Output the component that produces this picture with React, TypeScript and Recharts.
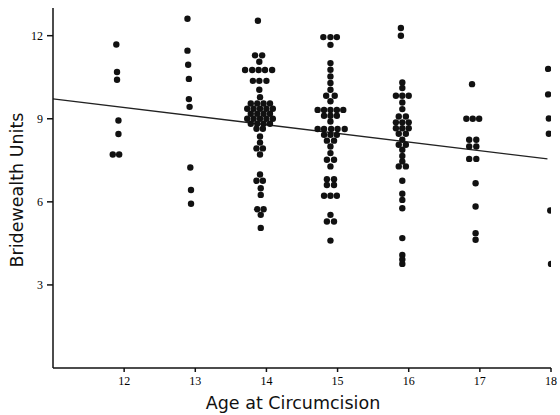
import { ScatterChart, Scatter, XAxis, YAxis, ReferenceLine } from "recharts";

// each dot as [age, bridewealth units]
const age12: [number, number][] = [
  [11.89, 11.68], [11.9, 10.69], [11.9, 10.41], [11.92, 8.94], [11.92, 8.45], [11.84, 7.71], [11.93, 7.71],
];

const age13: [number, number][] = [
  [12.89, 12.61], [12.89, 11.46], [12.9, 10.95], [12.91, 10.44], [12.91, 9.71], [12.92, 9.43],
  [12.93, 7.24], [12.94, 6.43], [12.94, 5.93],
];

const age14: [number, number][] = [
  [13.88, 12.54], [13.84, 11.29], [13.94, 11.29], [13.9, 11.06],
  [13.7, 10.76], [13.8, 10.76], [13.89, 10.76], [13.98, 10.76], [14.08, 10.76],
  [13.81, 10.37], [13.9, 10.37], [14.0, 10.37], [13.9, 10.05], [13.91, 9.78],
  [13.78, 9.55], [13.87, 9.55], [13.96, 9.55], [14.05, 9.55],
  [13.73, 9.36], [13.82, 9.36], [13.91, 9.36], [14.0, 9.36], [14.09, 9.36],
  [13.78, 9.18], [13.87, 9.18], [13.96, 9.18], [14.05, 9.18],
  [13.73, 9.0], [13.82, 9.0], [13.91, 9.0], [14.0, 9.0], [14.09, 9.0],
  [13.78, 8.82], [13.87, 8.82], [13.96, 8.82], [14.05, 8.82],
  [13.86, 8.64], [13.95, 8.64], [13.91, 8.36], [13.91, 8.14], [13.86, 7.93], [13.95, 7.93], [13.91, 7.71],
  [13.91, 6.99], [13.86, 6.76], [13.95, 6.76], [13.92, 6.49], [13.92, 6.25],
  [13.87, 5.73], [13.96, 5.73], [13.92, 5.53], [13.92, 5.06],
];

const age15: [number, number][] = [
  [14.8, 11.95], [14.9, 11.95], [14.99, 11.95], [14.9, 11.67],
  [14.9, 11.01], [14.9, 10.77], [14.9, 10.53], [14.9, 10.29], [14.9, 10.05],
  [14.84, 9.83], [14.96, 9.83], [14.9, 9.63],
  [14.72, 9.32], [14.81, 9.32], [14.9, 9.32], [14.99, 9.32], [15.08, 9.32],
  [14.81, 9.11], [14.9, 9.11], [14.99, 9.11], [14.9, 8.9],
  [14.72, 8.63], [14.81, 8.63], [14.91, 8.63], [15.0, 8.63], [15.1, 8.63],
  [14.81, 8.42], [14.9, 8.42], [14.99, 8.42], [14.85, 8.21], [14.95, 8.21],
  [14.9, 8.0], [14.9, 7.76], [14.85, 7.52], [14.95, 7.52], [14.9, 7.28],
  [14.85, 6.82], [14.95, 6.82], [14.85, 6.61], [14.95, 6.61],
  [14.81, 6.22], [14.9, 6.22], [14.99, 6.22],
  [14.9, 5.53], [14.85, 5.29], [14.95, 5.29], [14.9, 4.6],
];

const age16: [number, number][] = [
  [15.89, 12.28], [15.89, 12.0], [15.91, 10.31], [15.91, 10.11],
  [15.82, 9.83], [15.91, 9.83], [16.0, 9.83], [15.91, 9.59], [15.91, 9.35],
  [15.86, 9.08], [15.96, 9.08], [15.82, 8.87], [15.91, 8.87], [16.0, 8.87],
  [15.82, 8.66], [15.91, 8.66], [16.0, 8.66], [15.86, 8.46], [15.96, 8.46],
  [15.91, 8.24], [15.86, 8.06], [15.96, 8.06], [15.91, 7.88], [15.91, 7.66], [15.91, 7.46],
  [15.86, 7.28], [15.96, 7.28], [15.91, 6.76], [15.91, 6.29], [15.91, 6.07], [15.91, 5.77],
  [15.91, 4.69], [15.91, 4.08], [15.91, 3.92], [15.91, 3.76],
];

const age17: [number, number][] = [
  [16.89, 10.25], [16.81, 9.0], [16.9, 9.0], [16.99, 9.0],
  [16.85, 8.24], [16.95, 8.24], [16.85, 8.0], [16.95, 8.0], [16.85, 7.55], [16.95, 7.55],
  [16.94, 6.67], [16.94, 5.83], [16.94, 4.87], [16.94, 4.63],
];

const age18: [number, number][] = [
  [17.96, 10.8], [17.96, 9.88], [17.97, 9.01], [17.97, 8.46], [17.99, 5.69], [18.0, 3.76],
];

const regressionLine = [
  { x: 11, y: 9.72 },
  { x: 17.95, y: 7.55 },
];

const xTicks = [12, 13, 14, 15, 16, 17, 18];
const yTicks = [3, 6, 9, 12];

const points = [...age12, ...age13, ...age14, ...age15, ...age16, ...age17, ...age18].map(([x, y]) => ({ x, y }));

const Dot = (props: any) => <circle cx={props.cx} cy={props.cy} r={3.2} fill="#111" />;

const tickStyle = { fontFamily: "'Liberation Serif', serif", fontSize: 12, fill: "#000" };
const labelFont = "'DejaVu Sans', sans-serif";

export default function App() {
  return (
    <div style={{ position: "absolute", left: 0, top: 0, width: 560, height: 415, background: "#fff" }}>
      <ScatterChart width={560} height={415} margin={{ top: 8, right: 9, left: 0, bottom: 0 }}>
        <XAxis
          type="number"
          dataKey="x"
          domain={[11, 18]}
          ticks={xTicks}
          allowDataOverflow
          height={47}
          tickSize={4}
          tickMargin={4}
          tick={tickStyle}
          stroke="#111"
          strokeWidth={1.5}
          label={{
            content: ({ viewBox }: any) => (
              <text
                x={viewBox.x + viewBox.width / 2 - 9}
                y={409}
                textAnchor="middle"
                fontFamily={labelFont}
                fontSize={17.5}
                fill="#111"
              >
                Age at Circumcision
              </text>
            ),
          }}
        />
        <YAxis
          type="number"
          dataKey="y"
          domain={[0, 13]}
          ticks={yTicks}
          allowDataOverflow
          width={53}
          tickSize={6}
          tickMargin={4}
          tick={tickStyle}
          stroke="#111"
          strokeWidth={1.5}
          label={{
            content: ({ viewBox }: any) => {
              const cx = 23;
              const cy = viewBox.y + viewBox.height / 2 + 2;
              return (
                <text
                  x={cx}
                  y={cy}
                  transform={`rotate(-90, ${cx}, ${cy})`}
                  textAnchor="middle"
                  fontFamily={labelFont}
                  fontSize={17.5}
                  fill="#111"
                >
                  Bridewealth Units
                </text>
              );
            },
          }}
        />
        <ReferenceLine
          segment={regressionLine}
          stroke="#222"
          strokeWidth={1.3}
          ifOverflow="visible"
        />
        <Scatter data={points} shape={Dot} isAnimationActive={false} />
      </ScatterChart>
    </div>
  );
}
